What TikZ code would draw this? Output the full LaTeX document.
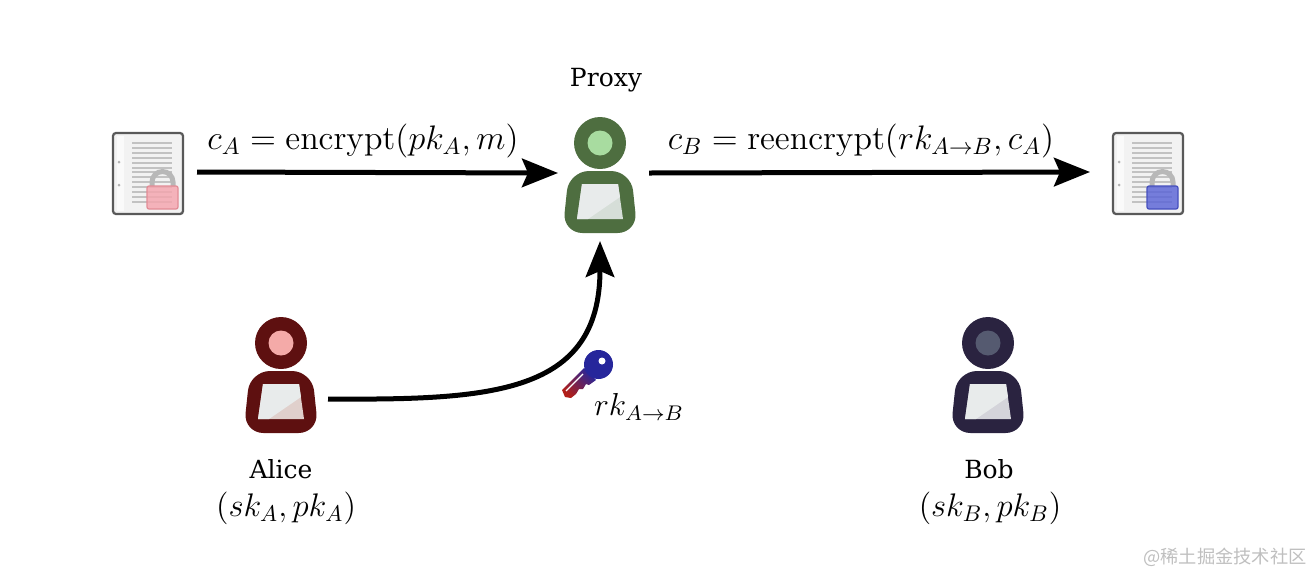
\documentclass[tikz,border=0pt]{standalone}
\usepackage[no-math]{fontspec}
\usepackage{amsmath}
\usepackage{tikz}
\usetikzlibrary{arrows.meta,positioning}
\newfontfamily\labelfont{DejaVu Serif}
\newfontfamily\cjkfont{Noto Sans CJK SC}
\definecolor{pxdark}{RGB}{78,110,64}
\definecolor{pxlight}{RGB}{168,220,160}
\definecolor{pxtint}{RGB}{214,222,216}
\definecolor{aldark}{RGB}{94,16,16}
\definecolor{allight}{RGB}{244,170,168}
\definecolor{altint}{RGB}{224,208,204}
\definecolor{bbdark}{RGB}{42,35,64}
\definecolor{bblight}{RGB}{85,90,112}
\definecolor{bbtint}{RGB}{212,212,218}
\definecolor{paneltop}{RGB}{232,235,235}
\definecolor{lockred}{RGB}{245,165,174}
\definecolor{lockreddraw}{RGB}{226,140,150}
\definecolor{lockblue}{RGB}{90,100,215}
\definecolor{lockbluedraw}{RGB}{70,80,190}
\definecolor{keyblue}{RGB}{38,38,155}
\definecolor{keyred}{RGB}{178,30,24}
% person icon: head centre x, head centre y, dark, light, tint
\newcommand{\person}[5]{
  \begin{scope}[shift={(#1,#2)}]
    \fill[#3] (0,0) circle[radius=26];
    \fill[#4] (0,0) circle[radius=12.5];
    \fill[#3, rounded corners=8pt] (-31,28) -- (31,28) -- (37.5,90) -- (-37.5,90) -- cycle;
    \fill[#5] (-18,41) -- (18,41) -- (23,76) -- (-23,76) -- cycle;
    \fill[paneltop] (-18,41) -- (18,41) -- (20,54) -- (-12,76) -- (-23,76) -- cycle;
  \end{scope}
}
% document icon with lock: left x, lock fill, lock border
\newcommand{\lockeddoc}[3]{
  \begin{scope}[shift={(#1,133)}]
    \draw[black!65, line width=0.9pt, fill=black!5, rounded corners=1.2pt] (0,0) rectangle (70,81);
    \fill[black!2] (4,3) rectangle (11,78);
    \foreach \row in {0,...,12}
      \draw[black!24, line width=0.8pt] (19,{10+\row*4.9}) -- (59,{10+\row*4.9});
    \fill[black!30] (6,29) circle[radius=1.5] (6,52) circle[radius=1.5];
    \draw[black!28, line width=2pt] (39,54) -- (39,49) arc[start angle=180, end angle=360, radius=10.5] -- (60,54);
    \fill[#2, draw=#3, fill opacity=0.82, line width=0.5pt, rounded corners=0.8pt] (34,53) rectangle (65,76);
  \end{scope}
}
\begin{document}
\begin{tikzpicture}[x=0.4pt, y=-0.4pt,
  anchorbox/.style={inner sep=0pt, outer sep=0pt, minimum height=#1},
  anchorbox/.default=53.6pt,
  arr/.style={-{Stealth[length=14.4pt, width=11.4pt, inset=2.4pt]}, line width=2pt, black},
  caption/.style={font=\labelfont, inner sep=0pt},
  formula/.style={font=\Large, inner sep=0pt, scale=0.945}]
\useasboundingbox (0,0) rectangle (1310,574);
% Documents
\lockeddoc{113}{lockred}{lockreddraw}
\lockeddoc{1113}{lockblue}{lockbluedraw}
\node[anchorbox, minimum width=39.2pt] (docA) at (148,172) {};
\node[anchorbox, minimum width=46.4pt] (docB) at (1148,172) {};
% People
\person{600}{143}{pxdark}{pxlight}{pxtint}
\person{281}{343}{aldark}{allight}{altint}
\person{988}{343}{bbdark}{bblight}{bbtint}
\node[anchorbox, minimum width=33.6pt] (proxy) at (600,173) {};
\node[anchorbox=32pt, minimum width=37.6pt] (alice) at (281,399) {};
\node[anchorbox=32pt, minimum width=37.6pt] (bob) at (988,399) {};
\coordinate (proxyin) at (600,241);
% Arrows
\draw[arr] (docA.east) -- (proxy.west);
\draw[arr] ([xshift=2.8pt]proxy.east) -- (docB.west);
\draw[arr] (alice.east) .. controls (490,400) and (600,395) .. (proxyin);
% Key
\shade[bottom color=keyred, top color=keyblue, shading angle=-45]
  (562,390) -- (584,368) -- (596,380) -- (589,385) -- (586,384) -- (583,389) -- (579,389) -- (576,394) -- (571,398) -- (565,397) -- cycle;
\fill[keyblue] (598.5,364.5) circle[radius=14.5];
\fill[white] (602,361) circle[radius=3.5];
\draw[white, line width=0.5pt] (566,391) -- (583,374);
% Labels
\node[caption] (proxylabel) at (606,80) {Proxy};
\node[caption] (alicelabel) at (281,469) {Alice};
\node[caption] (boblabel) at (989,469) {Bob};
\node[formula, scale=0.96] (alicekeys) at (286,508) {$(sk_A, pk_A)$};
\node[formula, scale=0.96] (bobkeys) at (990,508) {$(sk_B, pk_B)$};
\node[formula] (encA) at (363,141) {$c_A = \mathrm{encrypt}(pk_A, m)$};
\node[formula] (encB) at (861,141) {$c_B = \mathrm{reencrypt}(rk_{A\to B}, c_A)$};
\node[font=\large, inner sep=0pt, scale=1.06] (rklabel) at (639,407) {$rk_{A\to B}$};
\node[font=\cjkfont\fontsize{7.3}{9}\selectfont, text=black!25, inner sep=0pt] (mark) at (1225,557) {@稀土掘金技术社区};
\end{tikzpicture}
\end{document}
